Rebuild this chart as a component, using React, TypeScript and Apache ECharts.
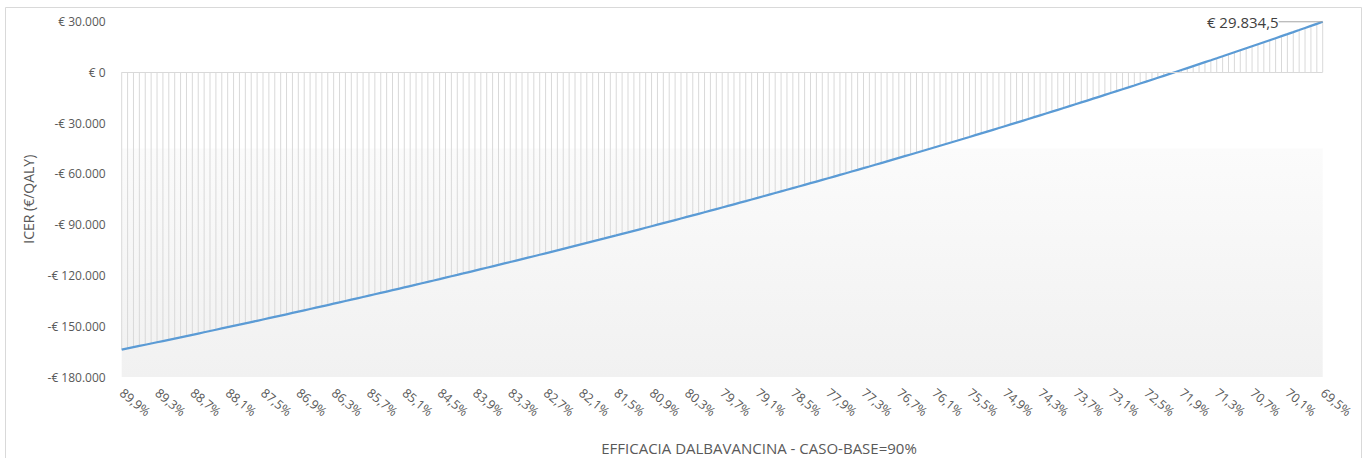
import React, { useEffect, useRef } from "react";
import * as echarts from "echarts";

// Efficacy of dalbavancin, from the 90% base case down to 69.5%, in 0.1-point steps
const efficacyLabels: string[] = [];
for (let tenths = 899; tenths >= 695; tenths--) {
  efficacyLabels.push((tenths / 10).toFixed(1).replace(".", ",") + "%");
}

// ICER (€/QALY) for each efficacy level
const icerValues: number[] = [
  -163839, -163118, -162395, -161671, -160944, -160216, -159486, -158754, -158021, -157285,
  -156548, -155809, -155068, -154325, -153580, -152833, -152084, -151334, -150581, -149827,
  -149070, -148312, -147552, -146790, -146025, -145259, -144491, -143721, -142949, -142175,
  -141399, -140621, -139841, -139059, -138275, -137489, -136701, -135911, -135119, -134325,
  -133529, -132730, -131930, -131127, -130323, -129516, -128708, -127897, -127084, -126269,
  -125452, -124632, -123811, -122987, -122161, -121334, -120503, -119671, -118837, -118000,
  -117161, -116320, -115477, -114632, -113784, -112934, -112082, -111228, -110372, -109513,
  -108652, -107788, -106923, -106055, -105185, -104312, -103438, -102561, -101681, -100800,
  -99916, -99030, -98141, -97250, -96357, -95461, -94563, -93663, -92760, -91855,
  -90947, -90037, -89125, -88210, -87293, -86373, -85451, -84527, -83600, -82671,
  -81739, -80805, -79868, -78929, -77987, -77043, -76096, -75147, -74196, -73242,
  -72285, -71326, -70364, -69400, -68433, -67464, -66492, -65517, -64540, -63560,
  -62578, -61593, -60606, -59616, -58623, -57628, -56630, -55630, -54627, -53621,
  -52612, -51601, -50587, -49571, -48552, -47530, -46506, -45478, -44449, -43416,
  -42381, -41343, -40302, -39258, -38212, -37163, -36111, -35057, -33999, -32939,
  -31877, -30811, -29743, -28671, -27597, -26520, -25441, -24358, -23273, -22185,
  -21093, -20000, -18903, -17803, -16701, -15595, -14487, -13376, -12262, -11145,
  -10025, -8902, -7776, -6647, -5516, -4381, -3244, -2103, -960, 187,
  1336, 2489, 3644, 4802, 5964, 7128, 8296, 9466, 10640, 11816,
  12996, 14179, 15364, 16553, 17745, 18940, 20138, 21339, 22543, 23751,
  24961, 26175, 27391, 28611, 29834.5,
];

const yMin = -180000;
const yMax = 30000;
const yStep = 30000;
const shadedTop = -45000;

const FONT = "'Open Sans', 'Noto Sans', sans-serif";
const TEXT = "#595959";

// Italian-style euro formatting: "-€ 30.000", "€ 29.834,5"
function euro(v: number, decimals = 0): string {
  const neg = v < 0;
  const [intPart, decPart] = Math.abs(v).toFixed(decimals).split(".");
  const grouped = intPart.replace(/\B(?=(\d{3})+(?!\d))/g, ".");
  return (neg ? "-" : "") + "€ " + grouped + (decPart ? "," + decPart : "");
}

export default function App() {
  const ref = useRef<HTMLDivElement>(null);

  useEffect(() => {
    if (!ref.current) return;
    const chart = echarts.init(ref.current, null, { renderer: "svg" });
    const last = icerValues.length - 1;

    const lineData = icerValues.map((v, i) =>
      i === last
        ? {
            value: v,
            symbol: "circle",
            symbolSize: 0.1,
            label: {
              show: true,
              position: "left",
              distance: 5,
              formatter: () => euro(v, 1),
              fontSize: 15,
              color: "#404040",
              fontFamily: FONT,
            },
            labelLine: { show: true, lineStyle: { color: "#a6a6a6", width: 1 } },
          }
        : v
    );

    chart.setOption({
      animation: false,
      backgroundColor: "#ffffff",
      textStyle: { fontFamily: FONT },
      grid: { left: 121.7, top: 21.5, width: 1201, height: 355.5 },
      graphic: [
        {
          type: "rect",
          shape: { x: 5.5, y: 7.5, width: 1356, height: 470 },
          style: { fill: "none", stroke: "#d9d9d9", lineWidth: 1 },
          z: -10,
          silent: true,
        },
        {
          type: "text",
          x: 759,
          y: 448,
          style: {
            text: "EFFICACIA DALBAVANCINA - CASO-BASE=90%",
            fill: TEXT,
            font: `15px ${FONT}`,
            align: "center",
            verticalAlign: "middle",
          },
        },
      ],
      xAxis: {
        type: "category",
        data: efficacyLabels,
        boundaryGap: false,
        axisLine: { show: false },
        axisTick: { show: false },
        splitLine: { show: false },
        axisLabel: {
          interval: 5,
          rotate: -40,
          margin: 14,
          color: TEXT,
          fontSize: 12.5,
          fontFamily: FONT,
        },
      },
      yAxis: {
        type: "value",
        min: yMin,
        max: yMax,
        interval: yStep,
        axisLine: { show: false },
        axisTick: { show: false },
        splitLine: { show: false },
        axisLabel: {
          formatter: (v: number) => euro(v),
          margin: 16,
          color: TEXT,
          fontSize: 12,
          fontFamily: FONT,
        },
        name: "ICER (€/QALY)",
        nameLocation: "middle",
        nameGap: 86,
        nameTextStyle: { color: TEXT, fontSize: 14, fontFamily: FONT },
      },
      series: [
        {
          // soft shaded band in the lower part of the plot
          type: "line",
          data: [],
          silent: true,
          z: 0,
          markArea: {
            silent: true,
            itemStyle: {
              color: {
                type: "linear",
                x: 0,
                y: 0,
                x2: 0,
                y2: 1,
                colorStops: [
                  { offset: 0, color: "#fbfbfb" },
                  { offset: 1, color: "#f1f1f1" },
                ],
              },
            },
            data: [
              [
                { xAxis: efficacyLabels[0], yAxis: shadedTop },
                { xAxis: efficacyLabels[last], yAxis: yMin },
              ],
            ],
          },
        },
        {
          // thin drop lines from zero to each ICER value
          type: "bar",
          data: icerValues,
          barWidth: 1,
          itemStyle: { color: "#d9d9d9" },
          silent: true,
          z: 1,
          markLine: {
            silent: true,
            symbol: "none",
            label: { show: false },
            lineStyle: { color: "#d9d9d9", type: "solid", width: 1 },
            data: [{ yAxis: 0 }],
          },
        },
        {
          type: "line",
          data: lineData,
          symbol: "none",
          showAllSymbol: true,
          lineStyle: { color: "#5b9bd5", width: 2.25 },
          itemStyle: { color: "#5b9bd5" },
          labelLayout: { dx: -39 },
          z: 3,
        },
      ],
    });

    return () => chart.dispose();
  }, []);

  return (
    <div
      ref={ref}
      style={{ position: "fixed", left: 0, top: 0, width: 1368, height: 458 }}
    />
  );
}
